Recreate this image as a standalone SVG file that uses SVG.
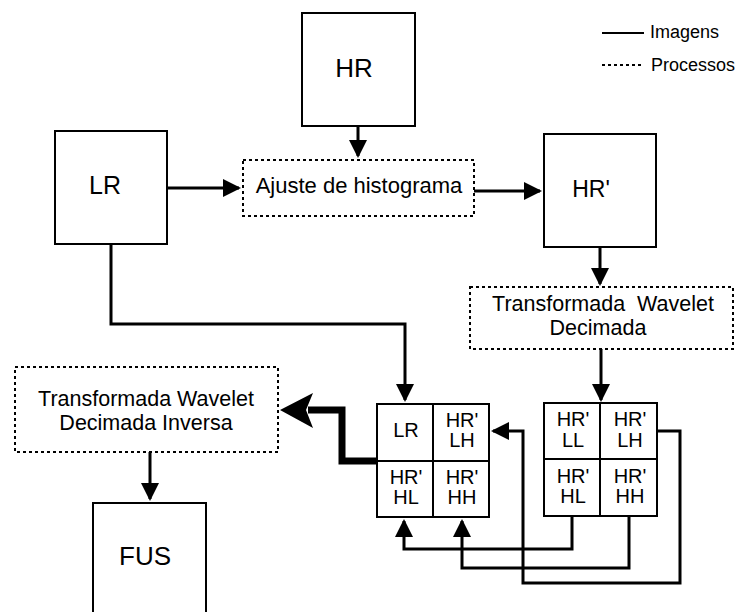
<svg xmlns="http://www.w3.org/2000/svg" width="737" height="612" viewBox="0 0 737 612">
<style>
.box{fill:#fff;stroke:#000;stroke-width:2}
.proc{fill:#fff;stroke:#000;stroke-width:2;stroke-dasharray:3,3}
.cell{fill:none;stroke:#000;stroke-width:2}
.t{font-family:"Liberation Sans",Arial,sans-serif;fill:#000;text-anchor:middle}
.lg{font-family:"Liberation Sans",Arial,sans-serif;fill:#000;font-size:18px}
.c{fill:none;stroke:#000;stroke-width:3;stroke-linejoin:miter;marker-end:url(#ah)}
</style>
<defs>
<marker id="ah" viewBox="0 0 18 18" markerWidth="18" markerHeight="18" refX="16" refY="9" orient="auto" markerUnits="userSpaceOnUse">
<path d="M0,0 L18,9 L0,18 Z" fill="#000"/>
</marker>
</defs>
<rect width="737" height="612" fill="#fff"/>

<g id="legend">
<line x1="602" y1="33" x2="644" y2="33" stroke="#000" stroke-width="2"/>
<text class="lg" x="650" y="38">Imagens</text>
<line x1="602" y1="65" x2="644" y2="65" stroke="#000" stroke-width="2" stroke-dasharray="3,3"/>
<text class="lg" x="651" y="71">Processos</text>
</g>

<g id="connectors">
<path class="c" d="M358,126 V156"/>
<path class="c" d="M167,188 H239"/>
<path class="c" d="M474,191 H540"/>
<path class="c" d="M600,247 V284"/>
<path class="c" d="M111,244 V324 H405 V400"/>
<path class="c" d="M601,349 V400"/>
<path class="c" d="M150,452 V499"/>
<path class="c" d="M657,431 H680 V583 H523 V431 H493"/>
<path class="c" d="M572,516 V549 H404 V521"/>
<path class="c" d="M629,516 V568 H462 V521"/>
<path d="M377,461 H342 V410 H308" fill="none" stroke="#000" stroke-width="7" stroke-linejoin="miter"/>
<polygon points="280,410 313,393 306,410 313,428" fill="#000"/>
</g>

<g id="node-hr">
<rect class="box" x="302" y="13" width="113" height="113"/>
<text class="t" x="354" y="77" font-size="26">HR</text>
</g>

<g id="node-lr">
<rect class="box" x="55" y="131" width="112" height="113"/>
<text class="t" x="105" y="194" font-size="25">LR</text>
</g>

<g id="node-ajuste">
<rect class="proc" x="243" y="160" width="231" height="56"/>
<text class="t" x="359" y="193" font-size="22">Ajuste de histograma</text>
</g>

<g id="node-hrp">
<rect class="box" x="544" y="134" width="112" height="113"/>
<text class="t" x="591" y="197" font-size="23">HR'</text>
</g>

<g id="node-twd">
<rect class="proc" x="470" y="287" width="263" height="62"/>
<text class="t" font-size="21.5" xml:space="preserve"><tspan x="603" y="311">Transformada  Wavelet</tspan><tspan x="598" y="335">Decimada</tspan></text>
</g>

<g id="node-twdi">
<rect class="proc" x="15" y="367" width="263" height="85"/>
<text class="t" font-size="21.5"><tspan x="146" y="406">Transformada Wavelet</tspan><tspan x="146" y="430">Decimada Inversa</tspan></text>
</g>

<g id="node-fus">
<rect class="box" x="93" y="503" width="113" height="130"/>
<text class="t" x="145" y="565" font-size="26">FUS</text>
</g>

<g id="node-grid-fused">
<rect class="cell" x="377" y="404" width="112" height="113"/>
<line class="cell" x1="433" y1="404" x2="433" y2="517"/>
<line class="cell" x1="377" y1="461" x2="489" y2="461"/>
<text class="t" x="406" y="437" font-size="20">LR</text>
<text class="t" font-size="20"><tspan x="462" y="427">HR'</tspan><tspan x="462" y="447">LH</tspan></text>
<text class="t" font-size="20"><tspan x="406" y="484">HR'</tspan><tspan x="406" y="504">HL</tspan></text>
<text class="t" font-size="20"><tspan x="462" y="484">HR'</tspan><tspan x="462" y="504">HH</tspan></text>
</g>

<g id="node-grid-hrp">
<rect class="cell" x="544" y="403" width="113" height="113"/>
<line class="cell" x1="600" y1="403" x2="600" y2="516"/>
<line class="cell" x1="544" y1="459" x2="657" y2="459"/>
<text class="t" font-size="20"><tspan x="573" y="426">HR'</tspan><tspan x="573" y="447">LL</tspan></text>
<text class="t" font-size="20"><tspan x="630" y="426">HR'</tspan><tspan x="630" y="447">LH</tspan></text>
<text class="t" font-size="20"><tspan x="573" y="483">HR'</tspan><tspan x="573" y="503">HL</tspan></text>
<text class="t" font-size="20"><tspan x="630" y="483">HR'</tspan><tspan x="630" y="503">HH</tspan></text>
</g>
</svg>
